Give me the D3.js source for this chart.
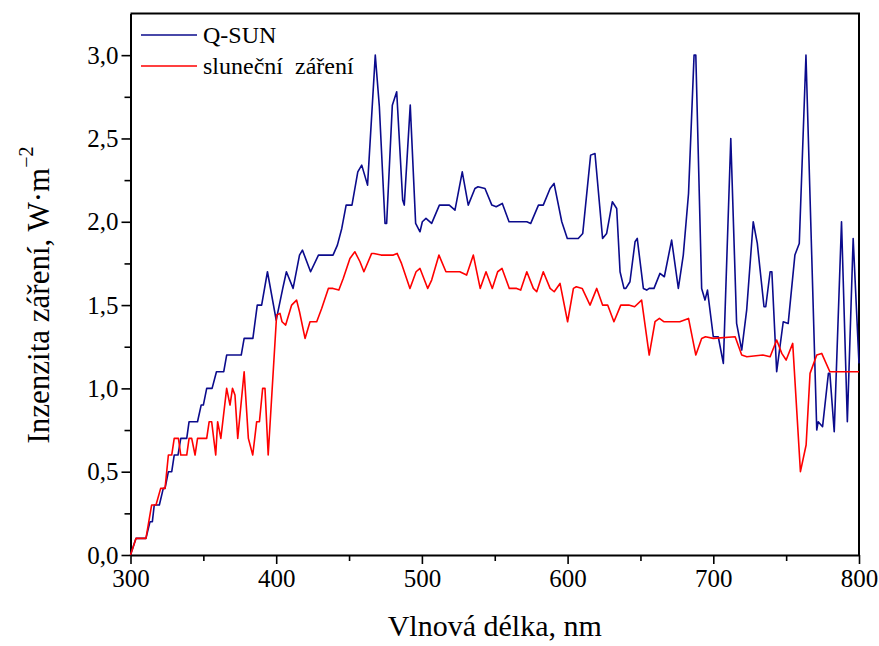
<!DOCTYPE html>
<html>
<head>
<meta charset="utf-8">
<script src="https://cdn.jsdelivr.net/npm/d3@7"></script>
<style>
  body { margin: 0; background: #fff; }
  text { font-family: "Liberation Serif", "Times New Roman", serif; }
</style>
</head>
<body>
<script>
// Q-SUN lamp spectrum
var qsunNm = [300, 303.8, 310.6, 313.4, 315, 316.3, 319.8, 322.5, 323.7, 326, 328.3, 330, 332.6, 334.5, 338.6, 340.2, 346, 348.5, 350,
  352.3, 356, 359, 364, 366, 376, 378, 384, 387, 390, 394, 400, 404.5, 407, 411.6, 416, 418, 423.6, 429, 439, 442, 445, 448, 452,
  456, 458.7, 462.7, 468, 470.8, 474.7, 475.8, 479.7, 482.7, 486.8, 487.9, 492, 495.7, 498.7, 500.3, 502.8, 506.7, 512, 518.8,
  522.7, 527.7, 531.8, 536.4, 538.5, 543.3, 548, 551, 555.2, 559.8, 565, 572, 574.7, 580, 583.3, 588, 590.7, 596, 599.8, 607.3,
  610.4, 615.8, 618.8, 624, 626.8, 630.7, 633.7, 636, 638.7, 640, 642.8, 646.3, 647.8, 652, 654.3, 656, 659.3, 663.4, 666.4,
  671.4, 676, 679.4, 683, 686.8, 688, 692, 694.3, 696, 700, 703.4, 706.9, 712, 716, 719.5, 722.9, 727.4, 730.2, 734.8, 736,
  739, 740.2, 743.5, 748, 751.4, 756, 759, 763.6, 771, 772, 775, 779, 780, 783, 788, 792, 796, 800];
var qsunVal = [0, 0.1, 0.1, 0.2, 0.2, 0.3, 0.3, 0.4, 0.4, 0.5, 0.5, 0.6, 0.6, 0.7, 0.7, 0.8, 0.8, 0.9, 0.9,
  1.0, 1.0, 1.1, 1.1, 1.2, 1.2, 1.3, 1.3, 1.5, 1.5, 1.7, 1.41, 1.6, 1.7, 1.6, 1.8, 1.83, 1.7, 1.8, 1.8, 1.86, 1.96, 2.1, 2.1,
  2.3, 2.34, 2.22, 3.0, 2.69, 1.99, 1.99, 2.7, 2.78, 2.13, 2.1, 2.7, 1.99, 1.94, 2.0, 2.02, 1.99, 2.1, 2.1,
  2.07, 2.3, 2.1, 2.2, 2.21, 2.2, 2.1, 2.09, 2.11, 2.0, 2.0, 2.0, 1.99, 2.1, 2.1, 2.2, 2.23, 2.0, 1.9, 1.9,
  1.93, 2.4, 2.41, 1.9, 1.93, 2.12, 2.08, 1.7, 1.6, 1.6, 1.64, 1.88, 1.9, 1.6, 1.59, 1.6, 1.6, 1.69, 1.67,
  1.89, 1.6, 1.8, 2.17, 3.0, 3.0, 1.6, 1.53, 1.59, 1.31, 1.31, 1.15, 2.5, 1.39, 1.23, 1.47, 2.0, 1.87, 1.49, 1.49,
  1.7, 1.7, 1.1, 1.4, 1.39, 1.8, 1.87, 3.0, 0.75, 0.8, 0.77, 1.09, 1.09, 0.74, 2.0, 0.8, 1.9, 1.15];

// sunlight spectrum
var sunNm = [300, 303.8, 310.6, 314.5, 317.5, 320.7, 323.7, 326, 328.3, 330, 332.9, 334.5, 338.6, 340.2, 342, 344.3, 346, 352.3,
  354, 355.7, 358.5, 359.8, 362, 366, 368.3, 370, 371.7, 373.6, 378, 380.9, 383.9, 386.6, 388.5, 390.7, 392.3, 394.5, 400.3,
  402.6, 404, 406.5, 410.6, 414, 416, 419.8, 423.2, 427.8, 431.2, 435.8, 439, 443, 446, 450.6, 454, 457.5, 460.2, 465.5, 467,
  472, 480.4, 483, 486, 491.8, 496, 498.7, 504, 506.7, 511.7, 516.5, 520, 526, 530.7, 535.3, 540, 544, 548.3, 552, 555, 560,
  565, 567.8, 572, 576.5, 578.8, 583.3, 588, 590.8, 594.8, 600, 604, 606, 610, 615.4, 620, 624, 627.5, 631.8, 636.5, 642, 646,
  650.8, 656, 660, 663, 666, 677, 683, 688, 692, 694.6, 700, 715, 719.5, 723, 734, 739, 743.5, 747, 750, 754.5, 759.8, 763.7,
  766.4, 771, 774.4, 780, 783, 800];
var sunVal = [0, 0.1, 0.1, 0.3, 0.3, 0.4, 0.4, 0.6, 0.6, 0.7, 0.7, 0.6, 0.6, 0.7, 0.7, 0.6, 0.7, 0.7,
  0.8, 0.8, 0.6, 0.8, 0.7, 1.0, 0.9, 1.0, 0.96, 0.7, 1.1, 0.7, 0.6, 0.8, 0.8, 1.0, 1.0, 0.6, 1.44,
  1.45, 1.4, 1.38, 1.5, 1.53, 1.46, 1.3, 1.4, 1.4, 1.48, 1.6, 1.6, 1.59, 1.66, 1.78, 1.82, 1.76, 1.7, 1.81, 1.81,
  1.8, 1.8, 1.81, 1.75, 1.6, 1.7, 1.72, 1.6, 1.65, 1.8, 1.7, 1.7, 1.7, 1.68, 1.8, 1.6, 1.7, 1.6, 1.7, 1.72, 1.6,
  1.6, 1.59, 1.7, 1.6, 1.58, 1.7, 1.6, 1.58, 1.63, 1.4, 1.6, 1.61, 1.6, 1.5, 1.6, 1.5, 1.5, 1.4, 1.5, 1.5, 1.49,
  1.53, 1.2, 1.4, 1.42, 1.4, 1.4, 1.42, 1.2, 1.3, 1.31, 1.3, 1.31, 1.2, 1.19, 1.2, 1.19, 1.29, 1.21, 1.17, 1.27, 0.5, 0.66,
  1.09, 1.2, 1.21, 1.1, 1.1, 1.1];

var xTicks = [300, 400, 500, 600, 700, 800];
var yTicks = [0, 0.5, 1.0, 1.5, 2.0, 2.5, 3.0];
var legendNames = ["Q-SUN", "sluneční  záření"];
var colors = ["#0b0b8c", "#ff0000"];

var width = 879,
    height = 646,
    plotLeft = 130.5,
    plotRight = 859,
    plotTop = 13.5,
    plotBottom = 555;

var svg = d3.select("body")
  .append("svg")
  .attr("width", width)
  .attr("height", height)

var x = d3.scaleLinear().domain([300, 800]).range([plotLeft, plotRight])
var y = d3.scaleLinear().domain([0, 3.25]).range([plotBottom, plotTop])

var fmt = function(d) { return d3.format(".1f")(d).replace(".", ",") }
var isMajorY = function(d) { return yTicks.some(function(t) { return Math.abs(t - d) < 1e-6 }) }

// axes
var xAxis = svg.append("g")
  .attr("transform", "translate(0 " + plotBottom + ")")
  .call(d3.axisBottom(x).tickValues(d3.range(300, 801, 50)).tickSize(9).tickSizeOuter(0)
    .tickFormat(function(d) { return xTicks.indexOf(d) >= 0 ? d : "" }))
xAxis.selectAll(".tick line").attr("y2", function(d) { return xTicks.indexOf(d) >= 0 ? 9 : 6 })

var yAxis = svg.append("g")
  .attr("transform", "translate(" + plotLeft + " 0)")
  .call(d3.axisLeft(y).tickValues(d3.range(0, 3.01, 0.25)).tickSize(9).tickSizeOuter(0)
    .tickFormat(function(d) { return isMajorY(d) ? fmt(d) : "" }))
yAxis.selectAll(".tick line").attr("x2", function(d) { return isMajorY(d) ? -9 : -6 })

svg.selectAll(".domain").attr("stroke-width", 2)
svg.selectAll(".tick line").attr("stroke-width", 1.6)
svg.selectAll(".tick text")
  .style("font-family", "'Liberation Serif', serif")
  .style("font-size", "25px")
  .attr("fill", "#000")
xAxis.selectAll(".tick text").attr("y", 12).attr("dy", "0.8em")
yAxis.selectAll(".tick text").attr("x", -12)

// frame top & right
svg.append("path")
  .attr("d", "M" + plotLeft + "," + plotTop + "H" + plotRight + "V" + plotBottom)
  .attr("fill", "none")
  .attr("stroke", "#000")
  .attr("stroke-width", 2)

var line = d3.line()
  .x(function(d) { return x(d[0]) })
  .y(function(d) { return y(d[1]) })

var series = [d3.zip(qsunNm, qsunVal), d3.zip(sunNm, sunVal)]

svg.selectAll(".series")
  .data(series)
  .enter().append("path")
  .attr("class", "series")
  .attr("d", line)
  .attr("fill", "none")
  .attr("stroke", function(d, i) { return colors[i] })
  .attr("stroke-width", 1.6)
  .attr("stroke-linejoin", "round")

// legend
var legend = svg.selectAll(".legend")
  .data(legendNames)
  .enter().append("g")
  .attr("class", "legend")
  .attr("transform", function(d, i) { return "translate(141 " + (35 + i * 31) + ")" })

legend.append("line")
  .attr("x1", 0)
  .attr("x2", 56)
  .attr("stroke", function(d, i) { return colors[i] })
  .attr("stroke-width", 1.6)

legend.append("text")
  .attr("x", 62)
  .attr("dy", "0.35em")
  .style("font-size", "24px")
  .style("white-space", "pre")
  .attr("xml:space", "preserve")
  .text(function(d) { return d })

// axis titles
svg.append("text")
  .attr("x", (plotLeft + plotRight) / 2)
  .attr("y", 636)
  .attr("text-anchor", "middle")
  .style("font-size", "30px")
  .text("Vlnová délka, nm")

var yTitle = svg.append("text")
  .attr("transform", "translate(49 295) rotate(-90)")
  .attr("text-anchor", "middle")
  .style("font-size", "31px")
yTitle.append("tspan").text("Inzenzita záření, W·m")
yTitle.append("tspan")
  .attr("dy", -16)
  .style("font-size", "20px")
  .text("−2")
</script>
</body>
</html>
